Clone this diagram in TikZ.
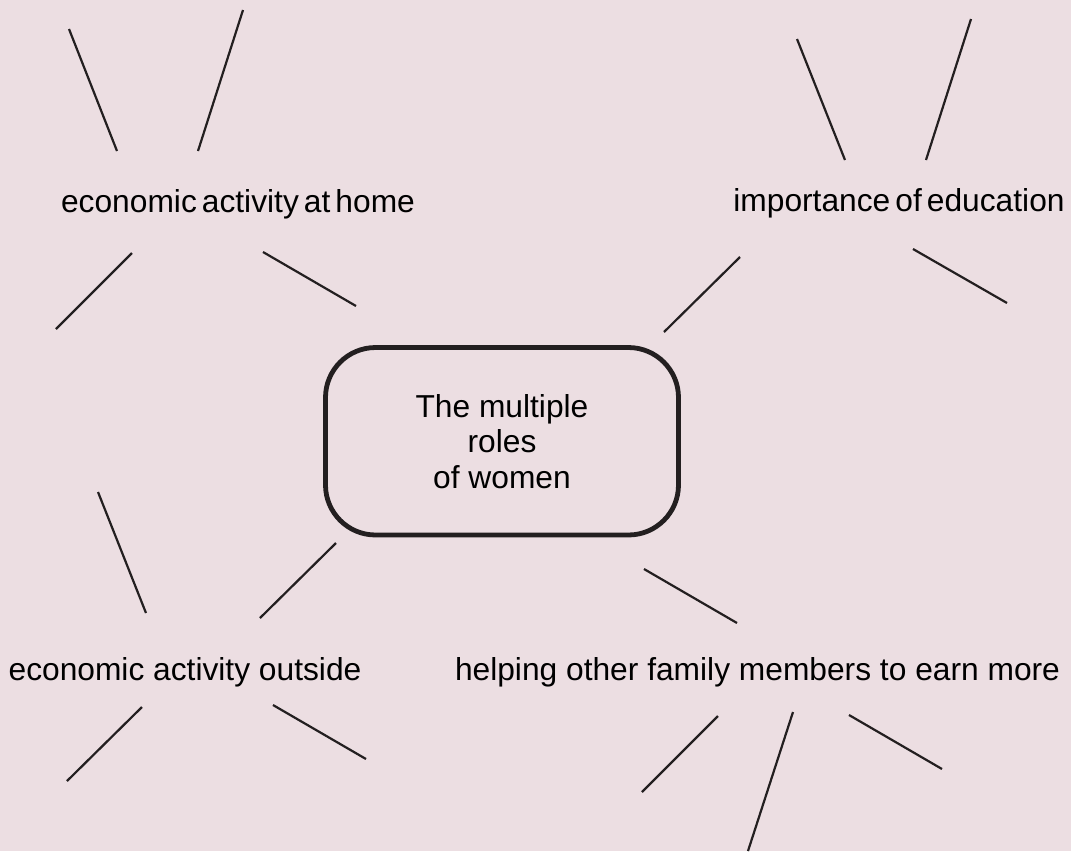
\documentclass[tikz,border=0pt]{standalone}
\usepackage{fontspec}
\setmainfont{Liberation Sans}
\definecolor{bgpink}{RGB}{236,222,226}
\definecolor{ink}{RGB}{35,31,32}
\begin{document}
\begin{tikzpicture}[x=0.75pt,y=-0.75pt,
  ray/.style={draw=ink,line width=1.65pt},
  sidelabel/.style={inner sep=0pt,anchor=base,text=black,font=\fontsize{23.8}{26.6}\selectfont},
  tightlabel/.style={sidelabel,execute at begin node={\spaceskip=3.8pt\relax}},
  centrebox/.style={draw=ink,line width=3.6pt,rounded corners=37.5pt,inner sep=0pt,
    minimum width=264.75pt,minimum height=140.6pt,align=center,text=black,
    font=\fontsize{23.8}{26.6}\selectfont}]
\fill[bgpink] (0,0) rectangle (1071,851);
\useasboundingbox (0,0) rectangle (1071,851);

% central box
\node[centrebox] (centre) at (502,441.25) {The multiple\\roles\\of women};

% labels
\node[tightlabel] (home) at (238,212) {economic activity at home};
\node[tightlabel] (educ) at (899,211) {importance of education};
\node[sidelabel] (outside) at (185,680) {economic activity outside};
\node[sidelabel] (helping) at (757.5,680) {helping other family members to earn more};

% rays around "economic activity at home"
\draw[ray] (69,29) -- (117,151);
\draw[ray] (243,10) -- (198,151);
\draw[ray] (132,253) -- (56,329);
\draw[ray] (263,252) -- (356,306);

% rays around "importance of education"
\draw[ray] (797,39) -- (845,160);
\draw[ray] (971,19) -- (926,160);
\draw[ray] (740,257) -- (664,332);
\draw[ray] (913,249) -- (1007,303);

% rays around "economic activity outside"
\draw[ray] (98,492) -- (146,613);
\draw[ray] (336,543) -- (260,618);
\draw[ray] (142,707) -- (67,781);
\draw[ray] (273,705) -- (366,759);

% rays around "helping other family members to earn more"
\draw[ray] (644,569) -- (737,623);
\draw[ray] (718,716) -- (642,792);
\draw[ray] (793,712) -- (748,851);
\draw[ray] (849,715) -- (942,769);
\end{tikzpicture}
\end{document}
